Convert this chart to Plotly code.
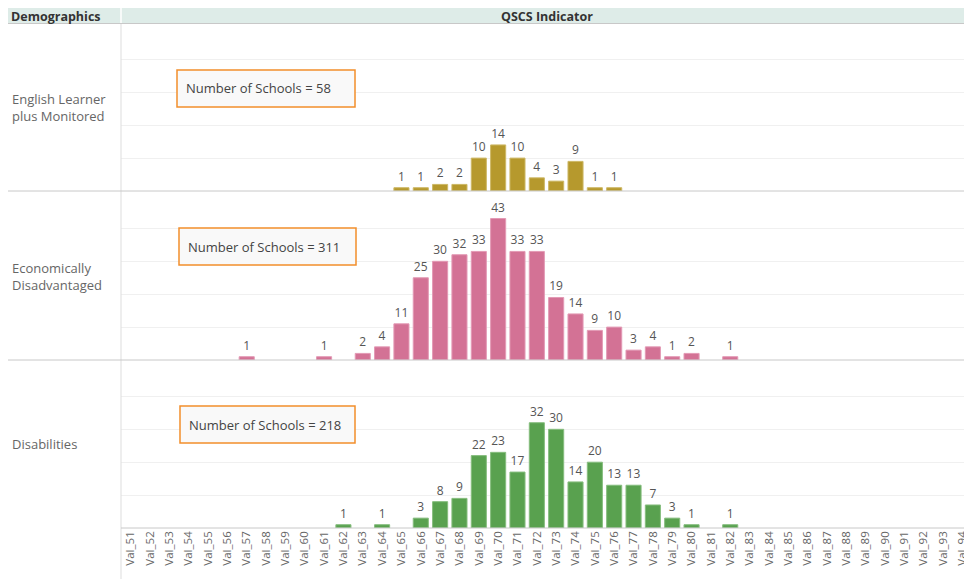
import plotly.graph_objects as go

# page body has an 8px margin: figure coordinates = screen coordinates - 8
OFF = 8
W, H = 964, 571

categories = [f"Val_{i}" for i in range(51, 95)]

el_x = ["Val_65", "Val_66", "Val_67", "Val_68", "Val_69", "Val_70", "Val_71",
        "Val_72", "Val_73", "Val_74", "Val_75", "Val_76"]
el_y = [1, 1, 2, 2, 10, 14, 10, 4, 3, 9, 1, 1]

ed_x = ["Val_57", "Val_61", "Val_63", "Val_64", "Val_65", "Val_66", "Val_67",
        "Val_68", "Val_69", "Val_70", "Val_71", "Val_72", "Val_73", "Val_74",
        "Val_75", "Val_76", "Val_77", "Val_78", "Val_79", "Val_80", "Val_82"]
ed_y = [1, 1, 2, 4, 11, 25, 30, 32, 33, 43, 33, 33, 19, 14, 9, 10, 3, 4, 1, 2, 1]

dis_x = ["Val_62", "Val_64", "Val_66", "Val_67", "Val_68", "Val_69", "Val_70",
         "Val_71", "Val_72", "Val_73", "Val_74", "Val_75", "Val_76", "Val_77",
         "Val_78", "Val_79", "Val_80", "Val_82"]
dis_y = [1, 1, 3, 8, 9, 22, 23, 17, 32, 30, 14, 20, 13, 13, 7, 3, 1, 1]

row_labels = ["English Learner<br>plus Monitored", "Economically<br>Disadvantaged", "Disabilities"]
school_counts = [58, 311, 218]
colors = ["#b6992d", "#d37295", "#59a14f"]
edge_colors = ["#cdb866", "#e39ab5", "#86bd7e"]

FONT = "Open Sans"


def px(x):
    return max(0.0, (x - OFF) / W)


def py(y):
    return min(1.0, 1 - (y - OFF) / H)


# panel pixel bounds on screen (top, bottom)
panels = [(24, 191), (191, 360), (360, 528)]
ppu = 3.29  # pixels per unit

fig = go.Figure()
series = [(el_x, el_y), (ed_x, ed_y), (dis_x, dis_y)]
for i, ((xs, ys), c, ec) in enumerate(zip(series, colors, edge_colors)):
    n = "" if i == 0 else str(i + 1)
    fig.add_trace(go.Bar(
        x=xs, y=ys, xaxis="x" + n, yaxis="y" + n,
        marker=dict(color=c, line=dict(color=ec, width=1)),
        text=ys, textposition="outside", cliponaxis=False,
        textfont=dict(size=12, color="#555555", family=FONT),
        showlegend=False, hoverinfo="x+y",
    ))

layout = dict(
    width=W, height=H,
    margin=dict(l=0, r=0, t=0, b=0),
    paper_bgcolor="white", plot_bgcolor="white",
    bargap=0.22,
    font=dict(family=FONT, color="#555555"),
)

for i, (top, bot) in enumerate(panels):
    n = "" if i == 0 else str(i + 1)
    layout["yaxis" + n] = dict(
        domain=[py(bot), py(top)], range=[0, (bot - top) / ppu],
        showticklabels=False, zeroline=False, showline=False,
        tickvals=[10, 20, 30, 40], gridcolor="#f0f0f0", gridwidth=1,
        fixedrange=True, anchor="x" + n,
    )
    layout["xaxis" + n] = dict(
        domain=[px(121), 1], type="category",
        categoryorder="array", categoryarray=categories,
        range=[-0.5, len(categories) - 0.5],
        showticklabels=(i == 2), tickangle=-90,
        tickfont=dict(size=11.5, color="#666666", family=FONT),
        showgrid=False, zeroline=False, showline=False, ticks="",
        anchor="y" + n, fixedrange=True,
    )
    if i > 0:
        layout["xaxis" + n]["matches"] = "x"

shapes = []
# header band
shapes.append(dict(type="rect", xref="paper", yref="paper", x0=0, x1=1, y0=py(23), y1=1,
                   fillcolor="#deece8", line=dict(width=0), layer="below"))
shapes.append(dict(type="line", xref="paper", yref="paper", x0=0, x1=1, y0=py(23.5), y1=py(23.5),
                   line=dict(color="#c8c8c8", width=1)))
# white gap between header cells
shapes.append(dict(type="line", xref="paper", yref="paper", x0=px(121), x1=px(121), y0=py(23), y1=1,
                   line=dict(color="#ffffff", width=1.5)))
# vertical separator
shapes.append(dict(type="line", xref="paper", yref="paper", x0=px(121), x1=px(121), y0=0, y1=py(24),
                   line=dict(color="#dddddd", width=1)))
# horizontal panel separators
for yy in [191, 360]:
    shapes.append(dict(type="line", xref="paper", yref="paper", x0=0, x1=1, y0=py(yy), y1=py(yy),
                       line=dict(color="#c8c8c8", width=1)))
shapes.append(dict(type="line", xref="paper", yref="paper", x0=px(121), x1=1, y0=py(528), y1=py(528),
                   line=dict(color="#c8c8c8", width=1)))

annotations = [
    dict(text="<b>Demographics</b>", xref="paper", yref="paper", x=px(10), y=py(16),
         xanchor="left", yanchor="middle", showarrow=False, borderpad=0,
         font=dict(size=12.5, color="#333333", family=FONT)),
    dict(text="<b>QSCS Indicator</b>", xref="paper", yref="paper", x=px(546.5), y=py(16),
         xanchor="center", yanchor="middle", showarrow=False, borderpad=0,
         font=dict(size=12.5, color="#333333", family=FONT)),
]

label_centers = [107, 276, 444]
boxes = [(177, 355, 70, 107), (179, 356, 228, 265), (180, 355, 406, 443)]
for lab, cy, (bx0, bx1, by0, by1), cnt in zip(row_labels, label_centers, boxes, school_counts):
    annotations.append(dict(text=lab, xref="paper", yref="paper", x=px(10), y=py(cy),
                            xanchor="left", yanchor="middle", align="left", showarrow=False,
                            font=dict(size=13, color="#666666", family=FONT)))
    shapes.append(dict(type="rect", xref="paper", yref="paper", x0=px(bx0), x1=px(bx1),
                       y0=py(by1), y1=py(by0), fillcolor="#f9f9f9",
                       line=dict(color="#f28e2b", width=1.5)))
    annotations.append(dict(text=f"Number of Schools = {cnt}", xref="paper", yref="paper",
                            x=px(bx0 + 7), y=py((by0 + by1) / 2), xanchor="left", yanchor="middle",
                            showarrow=False, font=dict(size=13, color="#444444", family=FONT)))

layout["shapes"] = shapes
layout["annotations"] = annotations
fig.update_layout(**layout)

fig.write_html("out.html")
